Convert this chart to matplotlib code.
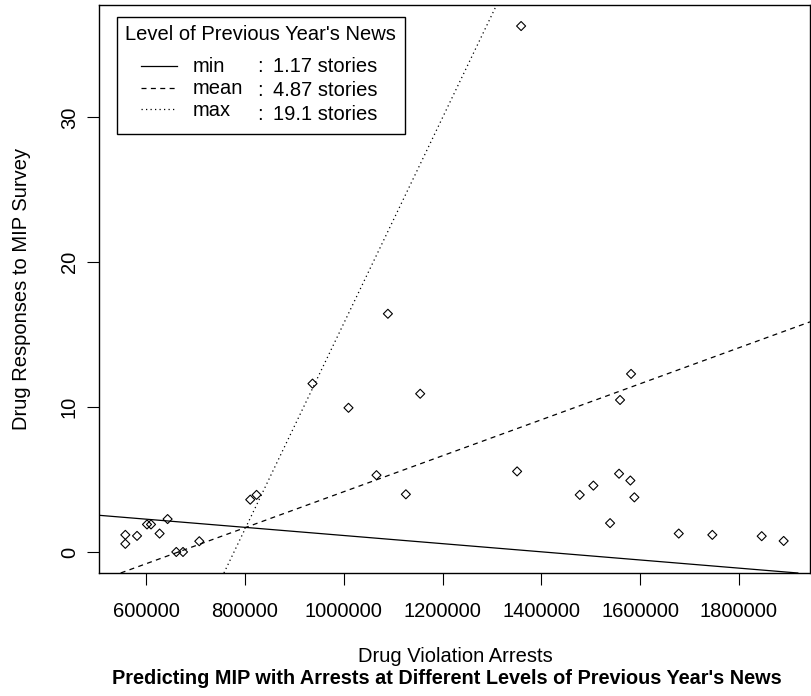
import numpy as np
import matplotlib.pyplot as plt
from matplotlib.lines import Line2D
from matplotlib.patches import Rectangle

plt.rcParams['font.family'] = ['Liberation Sans', 'DejaVu Sans']

# drug violation arrests vs. drug responses to MIP survey
arrests = [557500, 557500, 581200, 601400, 609500, 626900, 643100, 660700,
           674300, 707300, 810500, 823300, 936600, 1009500, 1089300, 1066200,
           1125700, 1154700, 1359100, 1351000, 1477900, 1505500, 1557500,
           1580400, 1588500, 1539300, 1678400, 1746400, 1846400, 1890900,
           1559500, 1581800]
mip = [0.56, 1.18, 1.11, 1.90, 1.90, 1.27, 2.27, 0.0,
       0.0, 0.74, 3.61, 3.94, 11.62, 9.95, 16.44, 5.30,
       3.98, 10.92, 36.3, 5.56, 3.94, 4.58, 5.40,
       4.93, 3.77, 1.99, 1.27, 1.18, 1.09, 0.76,
       10.49, 12.29]

# interaction model: mip ~ b0 + b1*arrests + b2*news + b3*arrests*news
b0, b1, b2, b3 = 7.81, -7.63e-6, -3.299, 4.116e-6
news_levels = [1.17, 4.87, 19.1]
level_names = ['min', 'mean', 'max']
level_text = ['1.17 stories', '4.87 stories', '19.1 stories']
styles = ['-', (0, (4, 3.5)), (0, (1, 2.6))]

W, H = 812, 696
fig = plt.figure(figsize=(W / 100, H / 100), dpi=100)
ax = fig.add_axes([99 / W, 1 - 573 / H, (810 - 99) / W, (573 - 5) / H])

ax.scatter(arrests, mip, marker='D', s=4.6 ** 2, facecolors='none',
           edgecolors='black', linewidths=0.8, zorder=3)

for n, ls in zip(news_levels, styles):
    ax.axline((0, b0 + b2 * n), slope=b1 + b3 * n, color='black',
              linestyle=ls, linewidth=0.9)

xr = max(arrests) - min(arrests)
yr = max(mip) - min(mip)
ax.set_xlim(min(arrests) - 0.04 * xr, max(arrests) + 0.04 * xr)
ax.set_ylim(min(mip) - 0.04 * yr, max(mip) + 0.04 * yr)

ax.set_xticks([600000, 800000, 1000000, 1200000, 1400000, 1600000, 1800000])
ax.set_xticklabels(['600000', '800000', '1000000', '1200000', '1400000',
                    '1600000', '1800000'])
ax.set_yticks([0, 10, 20, 30])
ax.set_yticklabels(['0', '10', '20', '30'], rotation=90, va='center')
ax.tick_params(axis='both', length=8.5, width=0.8, labelsize=14.5)
ax.tick_params(axis='x', pad=12.5)
ax.tick_params(axis='y', pad=6)
for sp in ax.spines.values():
    sp.set_linewidth(1.0)


def fx(x):
    return x / W


def fy(y):
    return 1 - y / H


fig.text(fx(455), fy(657), 'Drug Violation Arrests', fontsize=14.5,
         ha='center', va='center')
fig.text(fx(22), fy(289), 'Drug Responses to MIP Survey', fontsize=14.5,
         ha='center', va='center', rotation=90)
fig.text(fx(447), fy(679),
         "Predicting MIP with Arrests at Different Levels of Previous Year's News",
         fontsize=14.3, fontweight='bold', ha='center', va='center')

# legend box
fig.add_artist(Rectangle((fx(117), fy(134)), (405 - 117) / W, (134 - 17) / H,
                         transform=fig.transFigure, fill=False,
                         edgecolor='black', linewidth=1.0))
fig.text(fx(260), fy(34), "Level of Previous Year's News", fontsize=14.5,
         ha='center', va='center')
row_y = [66, 88, 109]
val_y = [67, 91, 115]
for i in range(3):
    fig.add_artist(Line2D([fx(141), fx(177)], [fy(row_y[i]), fy(row_y[i])],
                          transform=fig.transFigure, color='black',
                          linestyle=styles[i], linewidth=0.9))
    fig.text(fx(193), fy(row_y[i] + 1), level_names[i], fontsize=14.5,
             ha='left', va='center')
    fig.text(fx(257), fy(val_y[i]), ':', fontsize=14.5, ha='left', va='center')
    fig.text(fx(273), fy(val_y[i]), level_text[i], fontsize=14.5,
             ha='left', va='center')

fig.savefig('out.png', dpi=100)
